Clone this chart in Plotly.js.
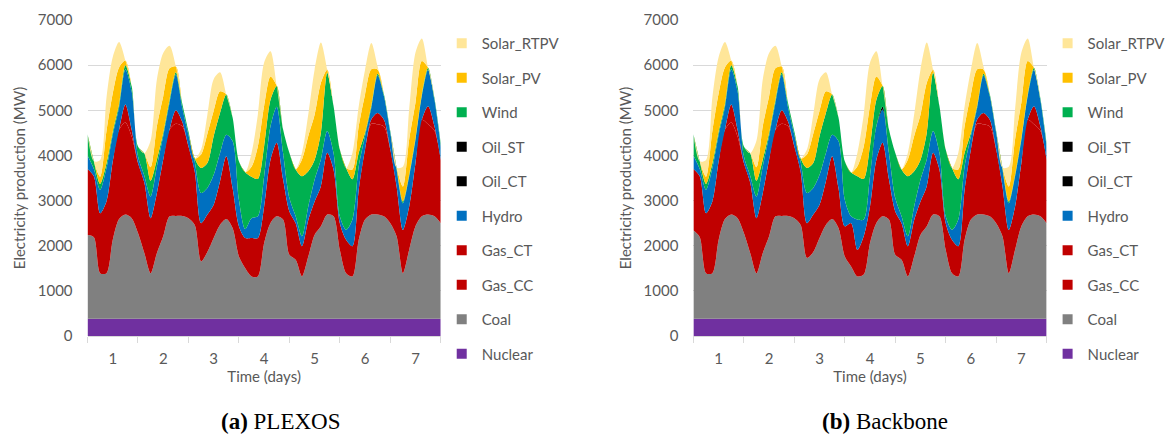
<!DOCTYPE html>
<html>
<head>
<meta charset="utf-8">
<script src="https://cdn.plot.ly/plotly-3.0.1.min.js"></script>
<style>html,body{margin:0;padding:0;background:#fff;}#chart{width:1171px;height:435px;}</style>
</head>
<body>
<div id="chart"></div>
<script>
// Time axis (hours over 7 days, sampled every 3 hours)
const hours = [0,3,6,9,12,15,18,21,24,27,30,33,36,39,42,45,48,51,54,57,60,63,66,69,72,75,78,81,84,87,90,93,96,99,102,105,108,111,114,117,120,123,126,129,132,135,138,141,144,147,150,153,156,159,162,165,168];
const dayLabels = ['1','2','3','4','5','6','7'];
const dayCenters = [12,36,60,84,108,132,156];

// Shared series (MW)
const nuclear = [380,380,380,380,380,380,380,380, 380,380,380,380,380,380,380,380, 380,380,380,380,380,380,380,380, 380,380,380,380,380,380,380,380, 380,380,380,380,380,380,380,380, 380,380,380,380,380,380,380,380, 380,380,380,380,380,380,380,380,380];
const solarPV = [0,0,160,720,850,810,100,0, 0,0,300,740,810,700,130,0, 0,0,300,650,560,480,0,0, 0,0,220,720,890,520,0,0, 0,0,370,780,1000,1110,70,0, 0,0,220,590,850,800,90,0, 0,0,330,780,780,740,0,0,0];
const solarRTPV = [0,0,370,740,800,560,0,0, 0,0,590,1040,960,500,0,0, 0,0,110,420,700,420,0,0, 0,0,300,700,960,560,0,0, 0,0,150,480,1000,890,0,0, 0,0,370,440,550,580,70,0, 0,0,440,670,1110,500,0,0,0];

// (a) PLEXOS (MW)
const plexosCoal = [1860,1810,1010,1010,1750,2210,2310,2230, 1900,1460,1010,1460,1830,2270,2280,2280, 2230,2080,1270,1480,1790,2080,2210,2010, 1380,1120,940,940,1680,2120,2270,2200, 1420,1310,940,1380,1860,2050,2310,2270, 1530,1010,940,1750,2200,2310,2310,2270, 2120,1830,1010,1530,2050,2270,2310,2270,2120];
const plexosGasCC = [1460,1350,1330,1590,1740,1980,2040,1810, 1550,1560,1220,1330,1700,1920,2040,1990, 1590,1180,850,830,740,960,1390,890, 670,670,850,850,810,1400,1630,890, 960,810,670,810,740,890,1370,1040, 590,740,670,1110,1550,2010,2000,1990, 1630,1110,960,960,1400,2140,2000,1900,1400];
const plexosGasCT = [0,0,0,0,0,0,400,150, 0,0,0,0,0,0,300,100, 0,0,0,0,0,0,0,0, 0,0,0,0,0,0,0,0, 0,0,0,0,0,0,0,0, 0,0,0,0,0,100,250,150, 0,0,0,0,0,0,400,100,0];
const plexosHydro = [300,160,520,740,590,500,780,850, 150,150,480,590,520,590,790,320, 260,220,670,590,660,630,480,1040, 590,200,440,480,670,740,800,590, 300,150,220,300,480,590,480,370, 150,220,590,520,300,260,830,520, 370,370,590,670,520,520,810,590,300];
const plexosOilCT = [0,0,0,0,0,0,0,0, 0,0,0,0,0,0,0,0, 0,0,0,0,0,0,0,0, 0,0,0,0,0,0,0,0, 0,0,0,0,0,0,0,0, 0,0,0,0,0,0,0,0, 0,0,0,0,0,0,0,0,0];
const plexosOilST = [0,0,0,0,0,0,0,0, 0,0,0,0,0,0,0,0, 0,0,0,0,0,0,0,0, 0,0,0,0,0,0,0,0, 0,0,0,0,0,0,0,0, 0,0,0,0,0,0,0,0, 0,0,0,0,0,0,0,0,0];
const plexosWind = [470,170,130,100,70,70,90,110, 220,500,350,150,70,70,50,90, 70,70,550,550,860,890,890,520, 850,1260,920,830,670,590,460,520, 1000,1040,1330,780,440,590,1290,1040, 1480,1370,890,300,70,50,40,40, 40,40,40,40,40,40,40,40,70];

// (b) Backbone (MW)
const backboneCoal = [1960,1810,1010,1010,1750,2210,2310,2230, 1900,1460,1010,1460,1830,2270,2280,2280, 2230,2080,1350,1480,1790,2080,2210,2010, 1380,1160,940,980,1680,2120,2270,2200, 1420,1310,940,1380,1860,2050,2310,2270, 1530,1010,940,1750,2200,2310,2310,2270, 2120,1830,1010,1530,2050,2270,2310,2270,2120];
const backboneGasCC = [1360,1350,1330,1590,1740,1980,2040,1810, 1550,1560,1220,1330,1700,1920,2040,1990, 1590,1180,770,830,740,960,1390,890, 670,960,590,850,810,1400,1630,890, 960,810,670,810,740,890,1370,1040, 590,740,670,1110,1550,2010,2000,1990, 1630,1110,960,960,1400,2140,2000,1900,1400];
const backboneGasCT = [0,0,0,0,0,0,400,150, 0,0,0,0,0,0,300,100, 0,0,0,0,0,0,0,0, 0,0,0,0,0,0,0,0, 0,0,0,0,0,0,0,0, 0,0,0,0,0,100,250,150, 0,0,0,0,0,0,400,100,0];
const backboneHydro = [300,160,520,740,590,500,780,850, 150,150,480,590,520,590,790,320, 260,220,670,590,660,630,480,1040, 590,150,670,370,670,740,740,590, 300,150,220,300,480,590,480,370, 150,220,590,520,300,260,830,520, 370,370,590,670,520,520,810,590,300];
const backboneOilCT = [0,0,0,0,0,0,0,0, 0,0,0,0,0,0,0,0, 0,0,0,0,0,0,0,0, 0,0,0,0,0,0,60,0, 0,0,0,0,0,0,0,0, 0,0,0,0,0,0,0,0, 0,0,0,0,0,0,0,0,0];
const backboneOilST = [0,0,0,0,0,0,0,0, 0,0,0,0,0,0,0,0, 0,0,0,0,0,0,0,0, 0,0,0,0,0,0,0,0, 0,0,0,0,0,0,0,0, 0,0,0,0,0,0,0,0, 0,0,0,0,0,0,0,0,0];
const backboneWind = [470,170,130,100,70,70,90,110, 220,500,350,150,70,70,50,90, 70,70,550,550,860,890,890,520, 850,970,960,900,670,590,460,520, 1000,1040,1330,780,440,590,1290,1040, 1480,1370,890,300,70,50,40,40, 40,40,40,40,40,40,40,40,70];

const seriesNames = ['Nuclear','Coal','Gas_CC','Gas_CT','Hydro','Oil_CT','Oil_ST','Wind','Solar_PV','Solar_RTPV'];
const seriesColors = ['#7030A0','#808080','#C00000','#C00000','#0070C0','#000000','#000000','#00B050','#FFC000','#FFE699'];
const plexosData = [nuclear, plexosCoal, plexosGasCC, plexosGasCT, plexosHydro, plexosOilCT, plexosOilST, plexosWind, solarPV, solarRTPV];
const backboneData = [nuclear, backboneCoal, backboneGasCC, backboneGasCT, backboneHydro, backboneOilCT, backboneOilST, backboneWind, solarPV, solarRTPV];

const traces = [];
function addPanel(data, xa, ya, stack, legendId) {
  data.forEach((vals, i) => {
    traces.push({
      type: 'scatter', x: hours, y: vals, name: seriesNames[i],
      stackgroup: stack, mode: 'lines', line: {width: 0, color: seriesColors[i], shape: 'spline', smoothing: 0.8},
      fillcolor: seriesColors[i], showlegend: false, xaxis: xa, yaxis: ya
    });
  });
  for (let i = seriesNames.length - 1; i >= 0; i--) {
    traces.push({
      type: 'scatter', mode: 'markers', x: [null], y: [null], name: seriesNames[i],
      marker: {symbol: 'square', size: 10, color: seriesColors[i]},
      showlegend: true, legend: legendId, legendgroup: legendId + seriesNames[i],
      xaxis: xa, yaxis: ya, hoverinfo: 'skip'
    });
  }
}
addPanel(plexosData, 'x', 'y', 'a', 'legend');
addPanel(backboneData, 'x2', 'y2', 'b', 'legend2');

const W = 1171, H = 435;
const txtColor = '#595959';
function xAxis(d0, d1, anchor) {
  return {
    domain: [d0 / W, d1 / W], anchor: anchor, range: [0, 168],
    tickmode: 'array', tickvals: dayCenters, ticktext: dayLabels, ticks: '',
    showgrid: false, zeroline: false, showline: true, linecolor: '#D9D9D9', linewidth: 1,
    minor: {tick0: 0, dtick: 24, ticks: 'outside', ticklen: 6, tickcolor: '#D9D9D9', tickwidth: 1, showgrid: false},
    tickfont: {size: 15, color: txtColor}, ticklabelstandoff: 9,
    title: {text: 'Time (days)', standoff: 5, font: {size: 15, color: txtColor}},
    automargin: false, fixedrange: true
  };
}
function yAxis(anchor) {
  return {
    domain: [99 / H, 415 / H], anchor: anchor, range: [0, 7000], dtick: 1000,
    showgrid: true, gridcolor: '#D9D9D9', gridwidth: 1, zeroline: false, showline: false, ticks: '',
    tickfont: {size: 15, color: txtColor}, ticklabelstandoff: 14,
    title: {text: 'Electricity production (MW)', standoff: 8, font: {size: 15, color: txtColor}},
    automargin: false, fixedrange: true
  };
}
const legendStyle = (x) => ({
  x: x / W, xanchor: 'left', y: 1 - 27 / H, yanchor: 'top',
  font: {size: 15, color: txtColor}, tracegroupgap: 12, itemwidth: 30,
  bgcolor: 'rgba(0,0,0,0)', traceorder: 'grouped'
});

const layout = {
  width: W, height: H, margin: {l: 0, r: 0, t: 0, b: 0},
  paper_bgcolor: '#ffffff', plot_bgcolor: '#ffffff',
  font: {family: 'Lato, "Open Sans", sans-serif', size: 15, color: txtColor},
  showlegend: true,
  xaxis: xAxis(88, 443, 'y'), yaxis: yAxis('x'),
  xaxis2: xAxis(697, 1052, 'y2'), yaxis2: yAxis('x2'),
  legend: legendStyle(444), legend2: legendStyle(1053),
  annotations: [
    {xref: 'paper', yref: 'paper', x: 282 / W, y: 14 / H, xanchor: 'center', yanchor: 'middle', showarrow: false,
     text: '<b>(a)</b> PLEXOS', font: {family: '"Liberation Serif", "DejaVu Serif", serif', size: 23, color: '#000000'}},
    {xref: 'paper', yref: 'paper', x: 890 / W, y: 14 / H, xanchor: 'center', yanchor: 'middle', showarrow: false,
     text: '<b>(b)</b> Backbone', font: {family: '"Liberation Serif", "DejaVu Serif", serif', size: 23, color: '#000000'}}
  ]
};

Plotly.newPlot('chart', traces, layout, {displayModeBar: false, staticPlot: true});
</script>
</body>
</html>
